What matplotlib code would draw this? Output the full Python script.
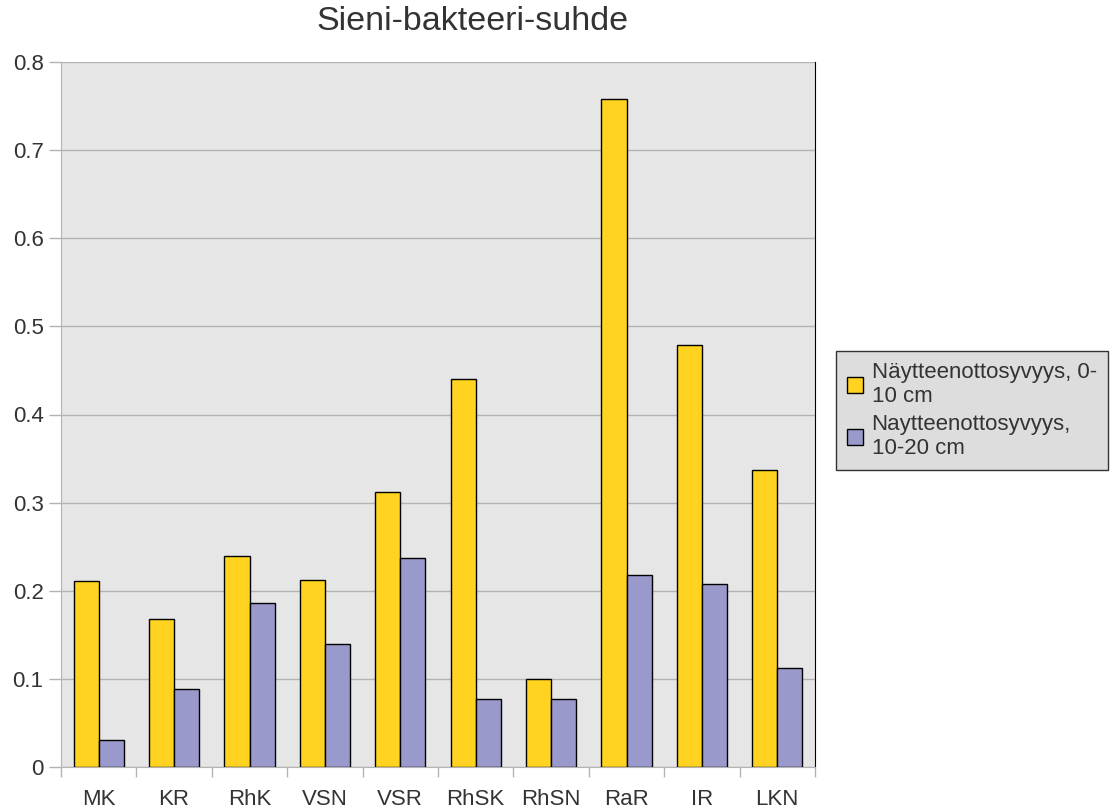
import numpy as np
import matplotlib.pyplot as plt

plt.rcParams['font.family'] = ['Liberation Sans', 'DejaVu Sans']

# Näytepaikat ja sieni/bakteeri-suhteet kahdelta syvyydeltä
paikat = ['MK', 'KR', 'RhK', 'VSN', 'VSR', 'RhSK', 'RhSN', 'RaR', 'IR', 'LKN']
syvyys_0_10 = [0.211, 0.168, 0.239, 0.212, 0.312, 0.440, 0.100, 0.758, 0.479, 0.337]
syvyys_10_20 = [0.031, 0.089, 0.186, 0.140, 0.237, 0.077, 0.077, 0.218, 0.208, 0.112]
nimet = ['Näytteenottosyvyys, 0-\n10 cm', 'Naytteenottosyvyys,\n10-20 cm']

fig = plt.figure(figsize=(11.15, 8.11), dpi=100)
ax = fig.add_axes([61 / 1115, 44 / 811, 754 / 1115, 705 / 811])
ax.set_facecolor('#e6e6e6')

x = np.arange(len(paikat))
w = 1 / 3
ax.bar(x - w / 2, syvyys_0_10, w, color='#ffd320', edgecolor='black', linewidth=1,
       label=nimet[0], zorder=3)
ax.bar(x + w / 2, syvyys_10_20, w, color='#9999cc', edgecolor='black', linewidth=1,
       label=nimet[1], zorder=3)

ax.set_xlim(-0.5, len(paikat) - 0.5)
ax.set_ylim(0, 0.8)
ax.set_yticks(np.arange(0, 0.81, 0.1))
ax.set_yticklabels(['0'] + ['%.1f' % v for v in np.arange(0.1, 0.81, 0.1)])
ax.yaxis.grid(True, color='#b3b3b3', linewidth=1, zorder=0)

# rajat kategorioiden välissä x-akselilla
ax.set_xticks(np.arange(-0.5, len(paikat)), minor=False)
ax.set_xticklabels([])
ax.set_xticks(x, minor=True)
ax.set_xticklabels(paikat, minor=True)
ax.tick_params(axis='x', which='major', length=7, color='#b3b3b3', width=1)
ax.tick_params(axis='x', which='minor', length=0, pad=16, labelsize=16, labelcolor='#333333')
ax.tick_params(axis='y', length=8.6, color='#b3b3b3', width=1, pad=4, labelsize=16,
               labelcolor='#333333')

ax.spines['top'].set_visible(False)
ax.spines['left'].set_color('#b3b3b3')
ax.spines['bottom'].set_color('#b3b3b3')
ax.spines['right'].set_color('#000000')

fig.text(473 / 1115, 1 - 21 / 811, 'Sieni-bakteeri-suhde', ha='center', va='center',
         fontsize=24.5, color='#333333')

leg = fig.legend(loc='upper left', bbox_to_anchor=(836 / 1115, 1 - 351 / 811),
                 fontsize=16, frameon=True, fancybox=False, handlelength=0.7,
                 handleheight=0.7, handletextpad=0.4, borderpad=0.5, labelspacing=0.3,
                 borderaxespad=0)
leg.get_frame().set_facecolor('#dddddd')
leg.get_frame().set_edgecolor('#333333')
leg.get_frame().set_alpha(1)
for t in leg.get_texts():
    t.set_color('#333333')

fig.savefig('out.png', dpi=100)
